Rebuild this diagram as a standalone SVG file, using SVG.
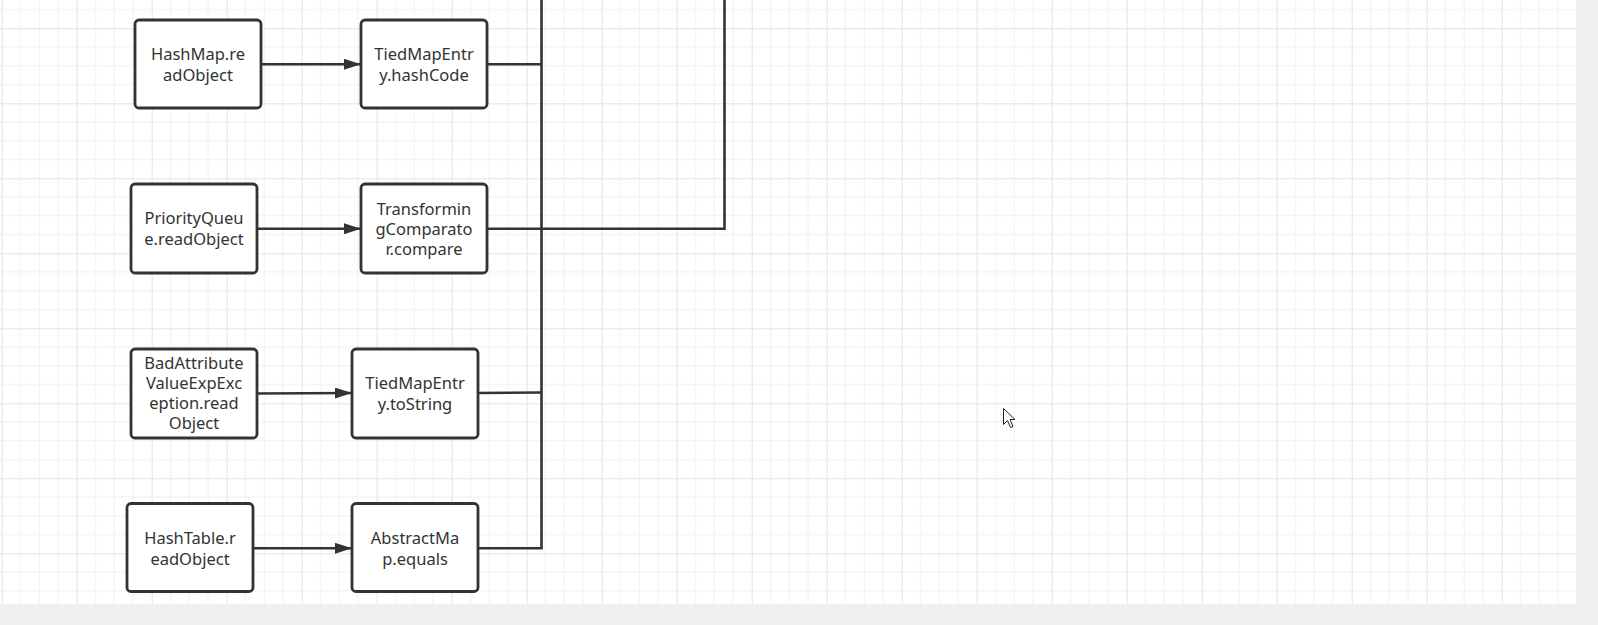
<svg xmlns="http://www.w3.org/2000/svg" width="1598" height="625" viewBox="0 0 1598 625">
<style>
.node rect{fill:#fff;stroke:#333;stroke-width:2.8}
.node text{font-family:"Noto Sans","Liberation Sans",Arial,sans-serif;font-size:16.5px;fill:#333;text-anchor:middle}
.conn path{fill:none;stroke:#333;stroke-width:2.6}
.arrow{marker-end:url(#ah)}
</style>
<defs>
<marker id="ah" viewBox="0 0 17 11" refX="17" refY="5.5" markerWidth="17" markerHeight="11" markerUnits="userSpaceOnUse" orient="auto">
<path d="M0,0 L17,5.5 L0,11 Z" fill="#333"/>
</marker>
<pattern id="grid" x="1.7" y="28.3" width="75" height="75" patternUnits="userSpaceOnUse">
<path d="M18.75,0V75M37.5,0V75M56.25,0V75M0,18.75H75M0,37.5H75M0,56.25H75" stroke="#f0f0f0" stroke-width="1" fill="none"/>
<path d="M0.5,0V75M0,0.5H75" stroke="#e3e3e3" stroke-width="1" fill="none"/>
</pattern>
</defs>
<rect x="0" y="0" width="1598" height="625" fill="#f0f0f0"/>
<rect x="0" y="0" width="1576" height="604" fill="#fff"/>
<rect x="0" y="0" width="1576" height="604" fill="url(#grid)"/>
<g id="connectors" class="conn">
<path class="arrow" d="M261,64.3H361"/>
<path class="arrow" d="M257,228.7H361"/>
<path class="arrow" d="M257,393.5L352,393"/>
<path class="arrow" d="M253,548.3H352"/>
<path d="M487,64.3H541.5"/>
<path d="M541.5,0V548.3H478"/>
<path d="M478,393L541.5,392.5"/>
<path d="M487,228.7H724.5V0"/>
</g>
<g id="n1" class="node"><rect x="135" y="20" width="126" height="88" rx="4"/><text x="198" y="60">HashMap.re</text><text x="198" y="80.7">adObject</text></g>
<g id="n2" class="node"><rect x="361" y="20" width="126" height="88" rx="4"/><text x="424" y="60">TiedMapEntr</text><text x="424" y="80.7">y.hashCode</text></g>
<g id="n3" class="node"><rect x="131" y="184" width="126" height="89" rx="4"/><text x="194" y="224">PriorityQueu</text><text x="194" y="244.7">e.readObject</text></g>
<g id="n4" class="node"><rect x="361" y="184" width="126" height="89" rx="4"/><text x="424" y="214.5">Transformin</text><text x="424" y="234.5">gComparato</text><text x="424" y="254.5">r.compare</text></g>
<g id="n5" class="node"><rect x="131" y="349" width="126" height="89" rx="4"/><text x="194" y="369">BadAttribute</text><text x="194" y="389">ValueExpExc</text><text x="194" y="409">eption.read</text><text x="194" y="429">Object</text></g>
<g id="n6" class="node"><rect x="352" y="349" width="126" height="89" rx="4"/><text x="415" y="389">TiedMapEntr</text><text x="415" y="409.7">y.toString</text></g>
<g id="n7" class="node"><rect x="127" y="503.5" width="126" height="88" rx="4"/><text x="190" y="544">HashTable.r</text><text x="190" y="564.7">eadObject</text></g>
<g id="n8" class="node"><rect x="352" y="503.5" width="126" height="88" rx="4"/><text x="415" y="544">AbstractMa</text><text x="415" y="564.7">p.equals</text></g>
<path d="M1003.5,408.5V424.5L1007.5,420.5L1010.5,427.5L1013,426.5L1010,419.5L1015,419.5Z" fill="#fff" stroke="#222" stroke-width="1"/>
</svg>
